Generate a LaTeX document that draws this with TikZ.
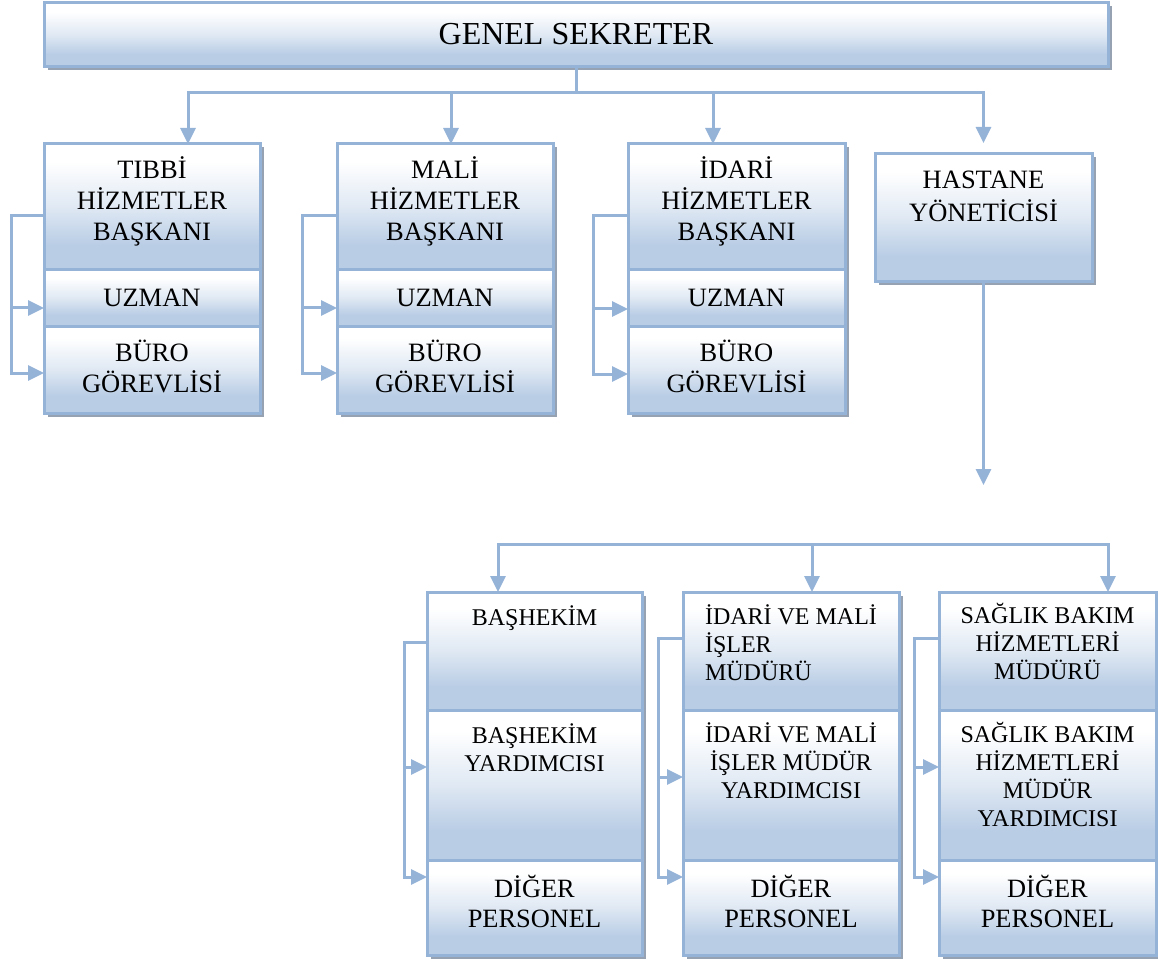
\documentclass[tikz,border=0pt]{standalone}
\usepackage{fontspec}
\setmainfont{Liberation Serif}
\usetikzlibrary{arrows.meta,shadows}

\definecolor{edgeblue}{RGB}{149,179,215}
\definecolor{fillblue}{RGB}{185,205,229}
\definecolor{shadowgrey}{RGB}{150,162,178}

% white at the top of each box, light blue towards the bottom
\pgfdeclareverticalshading{boxshade}{100bp}{%
  color(0bp)=(fillblue); color(25bp)=(fillblue); color(35bp)=(fillblue);
  color(50bp)=(fillblue!45!white); color(68bp)=(white); color(100bp)=(white)}

\begin{document}
\begin{tikzpicture}[x=1pt,y=-1pt,
  box/.style={draw=edgeblue, line width=3pt, shade, shading=boxshade,
    inner sep=0pt, outer sep=0pt, anchor=north west,
    general shadow={fill=shadowgrey, shadow xshift=3.5pt, shadow yshift=-3.5pt}},
  conn/.style={draw=edgeblue, line width=3pt},
  arr/.style={conn, -{Triangle[length=16pt,width=15pt]}},
  txt/.style={inner sep=0pt, outer sep=0pt, align=center, text=black},
  titlefont/.style={txt, font=\fontsize{32}{38}\selectfont},
  topfont/.style={txt, font=\fontsize{26.5}{31}\selectfont},
  hosfont/.style={txt, font=\fontsize{26.5}{33}\selectfont},
  lowfont/.style={txt, font=\fontsize{24}{27.7}\selectfont},
  stafffont/.style={txt, font=\fontsize{26.4}{30}\selectfont}]
\useasboundingbox (0,0) rectangle (1158,965);

% ---------- general secretary ----------
\node[box, minimum width=1064pt, minimum height=64pt] (gs) at (44,3) {};
\node[titlefont, anchor=base] (gs-t) at (576,45) {GENEL SEKRETER};

% ---------- upper departments ----------
\node[box, minimum width=216pt, minimum height=126pt] (tibbi) at (44,144) {};
\node[box, minimum width=216pt, minimum height=56pt]  (uzman1) at (44,270) {};
\node[box, minimum width=216pt, minimum height=87pt]  (buro1) at (44,326) {};

\node[box, minimum width=216pt, minimum height=126pt] (mali) at (337,144) {};
\node[box, minimum width=216pt, minimum height=56pt]  (uzman2) at (337,270) {};
\node[box, minimum width=216pt, minimum height=87pt]  (buro2) at (337,326) {};

\node[box, minimum width=217pt, minimum height=126pt] (idari) at (628,144) {};
\node[box, minimum width=217pt, minimum height=56pt]  (uzman3) at (628,270) {};
\node[box, minimum width=217pt, minimum height=87pt]  (buro3) at (628,326) {};

\node[box, minimum width=217pt, minimum height=128pt] (hy) at (875,154) {};

% multi-line labels are anchored at the baseline of their last line
\node[topfont, anchor=base] (tibbi-t) at (152,241) {TIBBİ\\HİZMETLER\\BAŞKANI};
\node[topfont, anchor=base] (uzman1-t) at (152,306) {UZMAN};
\node[topfont, anchor=base] (buro1-t) at (152,392) {BÜRO\\GÖREVLİSİ};

\node[topfont, anchor=base] (mali-t) at (445,241) {MALİ\\HİZMETLER\\BAŞKANI};
\node[topfont, anchor=base] (uzman2-t) at (445,306) {UZMAN};
\node[topfont, anchor=base] (buro2-t) at (445,392) {BÜRO\\GÖREVLİSİ};

\node[topfont, anchor=base] (idari-t) at (736.5,241) {İDARİ\\HİZMETLER\\BAŞKANI};
\node[topfont, anchor=base] (uzman3-t) at (736.5,306) {UZMAN};
\node[topfont, anchor=base] (buro3-t) at (736.5,392) {BÜRO\\GÖREVLİSİ};

\node[hosfont, anchor=base] (hy-t) at (983.5,222) {HASTANE\\YÖNETİCİSİ};

% ---------- connectors from the general secretary ----------
\draw[conn] (gs.south) -- (576,93) coordinate (bus);
\draw[arr] (bus) -| ([xshift=36pt]tibbi.north);
\draw[arr] (bus) -| ([xshift=6pt]mali.north);
\draw[arr] (bus) -| ([xshift=-23.5pt]idari.north);
\draw[arr, shorten >=11pt] (bus) -| (hy.north);

% brackets inside the upper departments
\draw[arr] (tibbi.west |- 0,216) -| (11,373) -- (buro1.west |- 0,373);
\draw[arr] (11,308) -- (uzman1.west |- 0,308);
\draw[arr] (mali.west |- 0,216) -| (302,373) -- (buro2.west |- 0,373);
\draw[arr] (302,308) -- (uzman2.west |- 0,308);
\draw[arr] (idari.west |- 0,216) -| (593,374) -- (buro3.west |- 0,374);
\draw[arr] (593,309) -- (uzman3.west |- 0,309);

% hospital manager downwards
\coordinate (hy-end) at (983.5,485);
\draw[arr] (hy.south) -- (hy-end);

% ---------- hospital units ----------
\node[box, minimum width=215pt, minimum height=118pt] (bas) at (427,592) {};
\node[box, minimum width=215pt, minimum height=150pt] (basy) at (427,710) {};
\node[box, minimum width=215pt, minimum height=95pt]  (dp1) at (427,860) {};

\node[box, minimum width=216pt, minimum height=118pt] (imm) at (683,592) {};
\node[box, minimum width=216pt, minimum height=150pt] (immy) at (683,710) {};
\node[box, minimum width=216pt, minimum height=95pt]  (dp2) at (683,860) {};

\node[box, minimum width=217pt, minimum height=118pt] (sbh) at (939,592) {};
\node[box, minimum width=217pt, minimum height=150pt] (sbhy) at (939,710) {};
\node[box, minimum width=217pt, minimum height=95pt]  (dp3) at (939,860) {};

\node[lowfont, anchor=base] (bas-t) at (534.5,625) {BAŞHEKİM};
\node[lowfont, anchor=base] (basy-t) at (534.5,771) {BAŞHEKİM\\YARDIMCISI};
\node[stafffont, anchor=base] (dp1-t) at (534.5,927) {DİĞER\\PERSONEL};

\node[lowfont, align=left, anchor=base west] (imm-t) at (705,680) {İDARİ VE MALİ\\İŞLER\\MÜDÜRÜ};
\node[lowfont, anchor=base] (immy-t) at (791,798) {İDARİ VE MALİ\\İŞLER MÜDÜR\\YARDIMCISI};
\node[stafffont, anchor=base] (dp2-t) at (791,927) {DİĞER\\PERSONEL};

\node[lowfont, anchor=base] (sbh-t) at (1047.5,679) {SAĞLIK BAKIM\\HİZMETLERİ\\MÜDÜRÜ};
\node[lowfont, anchor=base] (sbhy-t) at (1047.5,826) {SAĞLIK BAKIM\\HİZMETLERİ\\MÜDÜR\\YARDIMCISI};
\node[stafffont, anchor=base] (dp3-t) at (1047.5,927) {DİĞER\\PERSONEL};

% ---------- connectors of the hospital units ----------
\coordinate (lowbus) at (812,544);
\draw[arr] (lowbus) -| ([xshift=-36.5pt]bas.north);
\draw[arr] (lowbus) -- (lowbus |- imm.north);
\draw[arr] (lowbus) -| ([xshift=60.5pt]sbh.north);

\draw[arr] (bas.west |- 0,642) -| (404,877) -- (dp1.west |- 0,877);
\draw[arr] (404,767) -- (basy.west |- 0,767);
\draw[arr] (imm.west |- 0,638) -| (658,877) -- (dp2.west |- 0,877);
\draw[arr] (658,777) -- (immy.west |- 0,777);
\draw[arr] (sbh.west |- 0,638) -| (914,877) -- (dp3.west |- 0,877);
\draw[arr] (914,767) -- (sbhy.west |- 0,767);
\end{tikzpicture}
\end{document}
